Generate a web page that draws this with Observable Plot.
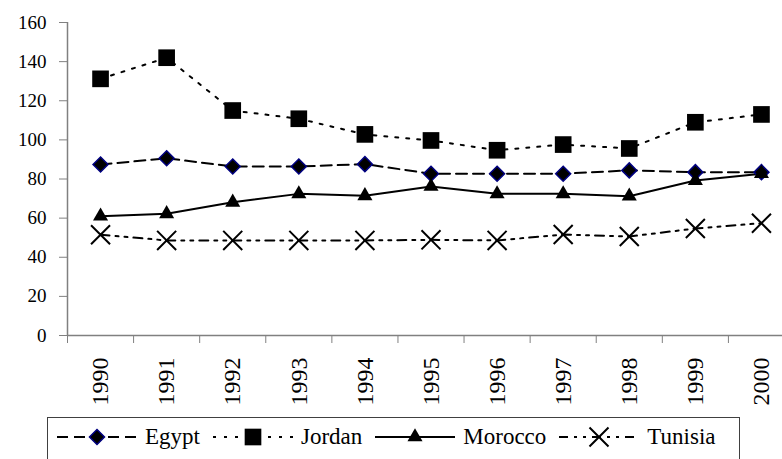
<!DOCTYPE html>
<html><head><meta charset="utf-8">
<script src="https://cdn.jsdelivr.net/npm/d3@7"></script>
<script src="https://cdn.jsdelivr.net/npm/@observablehq/plot@0.6"></script>
<style>
body{margin:0;overflow:hidden;background:#fff;color:#000;font-family:'Liberation Serif','Times New Roman',serif;}
#wrap{position:relative;width:782px;height:459px;}
#legend{position:absolute;left:47px;top:417px;width:693px;height:60px;border:1px solid #404040;box-sizing:border-box;display:flex;align-items:flex-start;padding:4px 0 0 9px;font-size:23px;}
.item{display:flex;align-items:center;height:30px;}
.item span{margin-left:8px;margin-right:13px;line-height:30px;}
</style>
</head><body><div id="wrap"><div id="chart"></div><div id="legend"></div></div>
<script>
const years = [1990,1991,1992,1993,1994,1995,1996,1997,1998,1999,2000];
const egypt   = [87.4,90.6,86.4,86.4,87.6,82.7,82.7,82.7,84.4,83.5,83.5];
const jordan  = [131.2,142,115,110.8,102.8,99.7,94.7,97.6,95.6,109,113];
const morocco = [61,62.2,68.1,72.4,71.4,76.2,72.4,72.4,71.2,79.2,82.7];
const tunisia = [51.5,48.6,48.6,48.6,48.6,48.9,48.6,51.6,50.6,54.7,57.4];
const yTicks = [0,20,40,60,80,100,120,140,160];
const boundaries = [1989.5,1990.5,1991.5,1992.5,1993.5,1994.5,1995.5,1996.5,1997.5,1998.5,1999.5];

const series = [
  {name:"Egypt", values:egypt, dash:"11,6", symbol:"diamond2", r:6.76, fill:"#000", stroke:"#000080", sw:1.5},
  {name:"Jordan", values:jordan, dash:"3,8", symbol:"square", r:9.4, fill:"#000", stroke:"none", sw:0},
  {name:"Morocco", values:morocco, dash:null, symbol:"triangle", r:5.6, fill:"#000", stroke:"none", sw:0},
  {name:"Tunisia", values:tunisia, dash:"9,6,3,6,3,6", symbol:"times", r:8.7, fill:"none", stroke:"#000", sw:2}
];

const FONT = "'Liberation Serif', 'Times New Roman', serif";
const rows = s => years.map((yr,i)=>({year:yr, value:s.values[i]}));
const marks = [
  Plot.ruleY([0], {stroke:"#808080", strokeWidth:1.5}),
  Plot.ruleX([boundaries[0]], {y1:yTicks[0], y2:yTicks[yTicks.length-1], stroke:"#808080", strokeWidth:1.5}),
  Plot.axisY(yTicks, {tickSize:8, tickPadding:13, fontSize:19, stroke:"#808080", fill:"#000", label:null}),
  Plot.axisX(boundaries, {tickSize:8, tickFormat:()=>"", stroke:"#808080", label:null}),
  Plot.axisX(years, {tickSize:0, tickPadding:22, tickRotate:-90, fontSize:24, fill:"#000", tickFormat:d=>String(d), label:null})
];
for (const s of series) {
  marks.push(Plot.line(rows(s), {x:"year", y:"value", stroke:"#000", strokeWidth:2, strokeDasharray:s.dash ?? undefined}));
}
for (const s of series) {
  marks.push(Plot.dot(rows(s), {x:"year", y:"value", symbol:s.symbol, r:s.r, fill:s.fill, stroke:s.stroke, strokeWidth:s.sw}));
}

const chart = Plot.plot({
  width:782, height:417,
  marginLeft:67, marginRight:-12, marginTop:22, marginBottom:82,
  x:{type:"linear", domain:[1989.5,2000.5], axis:null},
  y:{domain:[0,160], axis:null},
  style:{fontFamily:FONT, color:"#000", background:"#fff", overflow:"visible"},
  marks
});
document.getElementById("chart").append(chart);

const legend = d3.select("#legend");
const symMap = {diamond2:d3.symbolDiamond2, square:d3.symbolSquare, triangle:d3.symbolTriangle, times:d3.symbolTimes};
for (const s of series) {
  const item = legend.append("div").attr("class","item");
  const svg = item.append("svg").attr("width",80).attr("height",30);
  const ln = svg.append("line").attr("x1",0).attr("x2",80).attr("y1",15).attr("y2",15)
    .attr("stroke","#000").attr("stroke-width",2);
  if (s.dash) ln.attr("stroke-dasharray", s.dash);
  svg.append("path").attr("transform","translate(40,15)")
    .attr("d", d3.symbol(symMap[s.symbol], Math.PI*s.r*s.r)())
    .attr("fill", s.fill).attr("stroke", s.stroke).attr("stroke-width", s.sw);
  item.append("span").text(s.name);
}
</script>
</body></html>
